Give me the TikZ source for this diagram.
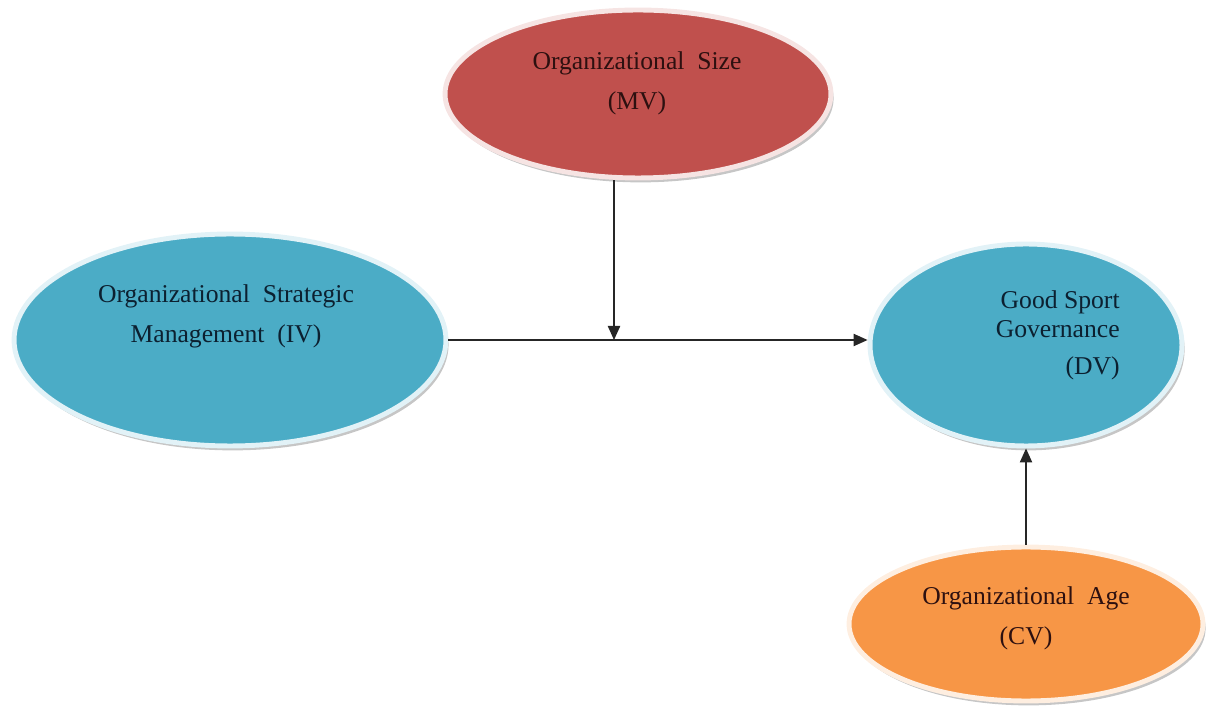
\documentclass[tikz,border=0pt]{standalone}
\usepackage{fontspec}
\setmainfont{Liberation Serif}
\usetikzlibrary{shapes.geometric,shadows,arrows.meta}

\definecolor{brick}{RGB}{192,80,77}
\definecolor{brickrim}{RGB}{246,228,227}
\definecolor{aqua}{RGB}{75,172,198}
\definecolor{aquarim}{RGB}{226,242,247}
\definecolor{tangerine}{RGB}{247,150,70}
\definecolor{tangerinerim}{RGB}{254,238,224}
\definecolor{inkred}{RGB}{45,16,16}
\definecolor{inkblue}{RGB}{12,32,48}
\tikzstyle{varbubble}=[ellipse, inner sep=0pt, line width=2.8pt,
                     drop shadow={shadow xshift=1.5pt, shadow yshift=-2.5pt,
                     fill=black!50, opacity=0.45}]
\tikzstyle{moderator}=[varbubble, draw=brickrim, fill=brick]
\tikzstyle{mainvar}=[varbubble, draw=aquarim, fill=aqua]
\tikzstyle{control}=[varbubble, draw=tangerinerim, fill=tangerine]
\tikzstyle{varlabel}=[anchor=north, align=center, inner sep=0pt,
                     font=\fontsize{14.6}{23}\selectfont]
\tikzstyle{link}=[-{Triangle[length=8pt,width=7pt]}, line width=0.8pt,
                 black!85]

\begin{document}
\begin{tikzpicture}[x=0.02cm, y=-0.02cm]
  \useasboundingbox (0,0) rectangle (1206,715);
  % Place the variables
  \node[moderator, minimum width=7.72cm, minimum height=3.36cm] (mv) at (638,94) {};
  \node[mainvar, minimum width=8.64cm, minimum height=4.24cm] (iv) at (230,340) {};
  \node[mainvar, minimum width=6.24cm, minimum height=4.04cm] (dv) at (1026,345) {};
  \node[control, minimum width=7.08cm, minimum height=3.08cm] (cv) at (1026,624) {};
  %
  % Their texts
  \node[varlabel, text=inkred] (mvtext) at (637,51) {Organizational\ \ Size\\(MV)};
  \node[varlabel, text=inkblue] (ivtext) at (226,284)
       {Organizational\ \ Strategic\\Management\ \ (IV)};
  \node[varlabel, anchor=north east, align=right, text=inkblue,
        font=\fontsize{14.6}{16.5}\selectfont] (dvtext) at (1120,290)
       {Good Sport\\Governance\\[5pt](DV)};
  \node[varlabel, text=inkred] (cvtext) at (1026,586) {Organizational\ \ Age\\(CV)};
  %%%%%%%%
  % Links
  \coordinate (join) at (614,340);
  \draw[link] (iv.east) -- (iv.east -| dv.west);
  \draw[link] (mv.south -| join) -- (join);
  \draw[link] (cv.north) -- (dv.south);
\end{tikzpicture}
\end{document}
